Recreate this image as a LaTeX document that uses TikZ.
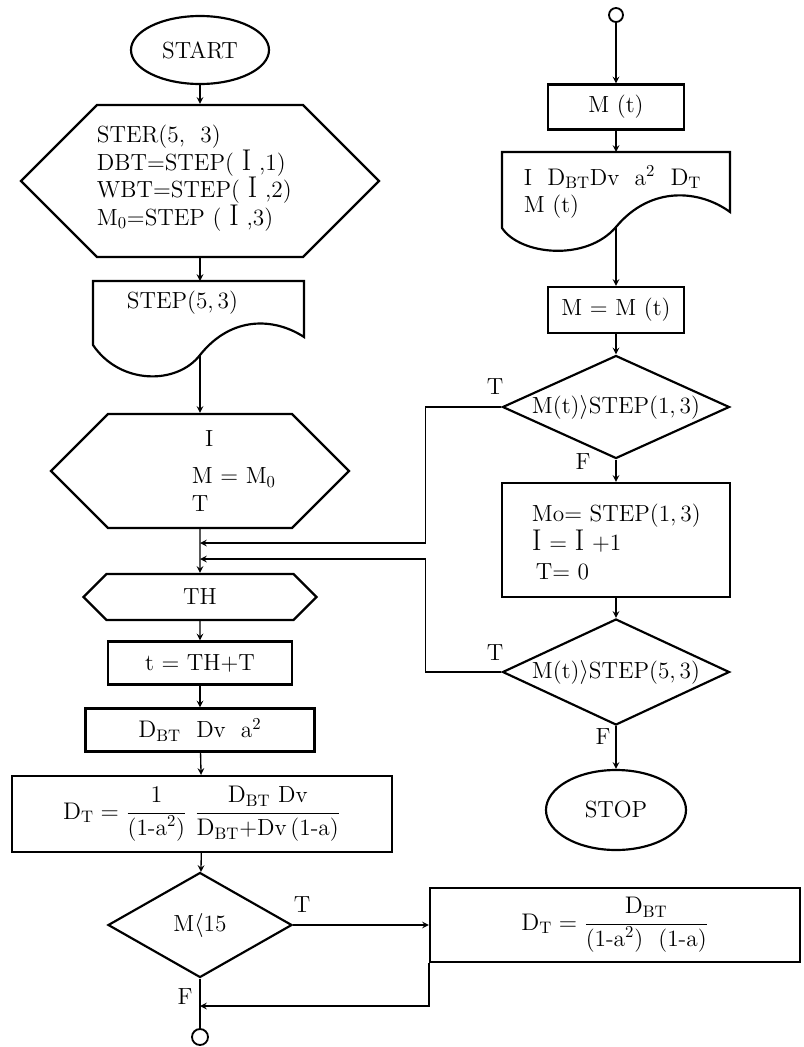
\documentclass[tikz,border=0pt]{standalone}
\usetikzlibrary{shapes.geometric,shapes.symbols}
\newcommand{\Dbt}{\ensuremath{\mathrm{D}_{\mathrm{BT}}}}
\newcommand{\Dt}{\ensuremath{\mathrm{D}_{\mathrm{T}}}}
\newcommand{\bigI}{{\fontsize{18}{18}\selectfont I}}
\begin{document}
\begin{tikzpicture}[x=0.6pt, y=-0.6pt, font=\fontsize{14}{16.5}\selectfont,
    wh/.style 2 args={minimum width=#1*0.6pt, minimum height=#2*0.6pt},
    box/.style={draw, line width=1.3pt, inner sep=0pt},
    term/.style={box, ellipse},
    proc/.style={box, rectangle},
    prep/.style={box, signal, signal to=east and west, signal pointer angle=90},
    test/.style={box, diamond},
    conn/.style={draw, circle, line width=1.1pt, inner sep=0pt},
    flow/.style={->, >=stealth, line width=0.8pt}]
    \useasboundingbox (0,0) rectangle (804,1047);
    % left column
    \node [term, wh={138}{68}] (start) at (200,50) {START};
    \node [prep, wh={358}{152}] (init) at (200,181) {};
    \node [anchor=west, align=left] (initText) at (91,178)
        {STER(5,\ \ 3)\\DBT=STEP(\ \bigI\ ,1)\\WBT=STEP(\ \bigI\ ,2)\\M$_0$=STEP (\ \bigI\ ,3)};
    \draw [line width=1.3pt] (93,281) -- (304,281) -- (304,337)
        .. controls (275,318) and (232,315) .. (200,355)
        .. controls (177,385) and (120,385) .. (93,345) -- cycle;
    \coordinate (doc1in) at (200,281);
    \coordinate (doc1out) at (200,355);
    \node [anchor=west] (doc1Text) at (121,303) {STEP(5,\,3)};
    \node [prep, wh={298}{114}] (loopinit) at (200,471) {};
    \node [anchor=west, align=left] (loopText) at (186,471)
        {\hspace*{8pt}I\\[6pt]M = M$_0$\\T};
    \node [prep, wh={233}{46}] (th) at (200,597) {TH};
    \node [proc, wh={184}{43}] (tbox) at (200,663) {t = TH+T};
    \node [proc, wh={229}{43}] (dbox) at (200,730) {\Dbt\ \ Dv\ \ a$^2$};
    \node [proc, wh={380}{76}] (dtbox) at (202,814)
        {$\Dt = \displaystyle\frac{1}{\mbox{(1-a$^2$)}}\ \frac{\mbox{\Dbt\ Dv}}{\mbox{\Dbt+Dv\,(1-a)}}$};
    \node [test, wh={184}{105}, label=center:{M$\langle$15}] (m15) at (200,925) {};
    \node [conn, minimum size=16*0.6pt] (endconn) at (200,1037) {};
    \node [proc, wh={370}{74}] (dtalt) at (615,925)
        {$\Dt = \displaystyle\frac{\Dbt}{\mbox{(1-a$^2$)\ \ (1-a)}}$};
    % right column
    \node [conn, minimum size=14*0.6pt] (topconn) at (616,15) {};
    \node [proc, wh={136}{45}] (mt) at (616,107) {M (t)};
    \draw [line width=1.3pt] (502,152) -- (730,152) -- (730,212)
        .. controls (700,190) and (651,185) .. (616,227)
        .. controls (586,262) and (520,255) .. (502,228) -- cycle;
    \coordinate (doc2in) at (616,152);
    \coordinate (doc2out) at (616,227);
    \node [anchor=west, align=left] (doc2Text) at (518,192)
        {I\ \ \Dbt Dv\ \ a$^2$\ \ \Dt\\M (t)};
    \node [proc, wh={136}{46}] (mmt) at (616,310) {M = M (t)};
    \node [test, wh={227}{103}, label=center:{M(t)$\rangle$STEP(1,\,3)}] (d1) at (616,407) {};
    \node [proc, wh={228}{114}] (upd) at (616,540) {};
    \node [anchor=west, align=left] (updText) at (526,542)
        {Mo= STEP(1,\,3)\\[1pt]\bigI\ = \bigI\ +1\\[1pt]\,T= 0};
    \node [test, wh={227}{106}, label=center:{M(t)$\rangle$STEP(5,\,3)}] (d2) at (616,672) {};
    \node [term, wh={140}{80}] (stop) at (616,810) {STOP};
    % labels
    \node (tD1) at (495,387) {T};
    \node (fD1) at (583,462) {F};
    \node (tD2) at (495,653) {T};
    \node (fD2) at (603,737) {F};
    \node (tM15) at (302,905) {T};
    \node (fM15) at (185,997) {F};
    % flow
    \coordinate (join1) at (200,543);
    \coordinate (join2) at (200,559);
    \coordinate (ret) at (200,1006);
    \draw [flow] (start) -- (init);
    \draw [flow] (init) -- (doc1in);
    \draw [flow] (doc1out) -- (loopinit);
    \draw [flow] (loopinit) -- (th);
    \draw [flow] (th) -- (tbox);
    \draw [flow] (tbox) -- (dbox);
    \draw [flow] (dbox) -- (dtbox);
    \draw [flow] (dtbox) -- (m15);
    \draw [flow] (m15.east) -- (dtalt.west);
    \draw [flow] (dtalt.south west) |- (ret);
    \draw [line width=0.8pt] (m15.south) -- (endconn);
    \draw [flow] (topconn) -- (mt);
    \draw [flow] (mt) -- (doc2in);
    \draw [flow] (doc2out) -- (mmt);
    \draw [flow] (mmt) -- (d1);
    \draw [flow] (d1) -- (upd);
    \draw [flow] (upd) -- (d2);
    \draw [flow] (d2) -- (stop);
    \draw [flow] (d1.west) -- ++(-76,0) |- (join1);
    \draw [flow] (d2.west) -- ++(-76,0) |- (join2);
\end{tikzpicture}
\end{document}
